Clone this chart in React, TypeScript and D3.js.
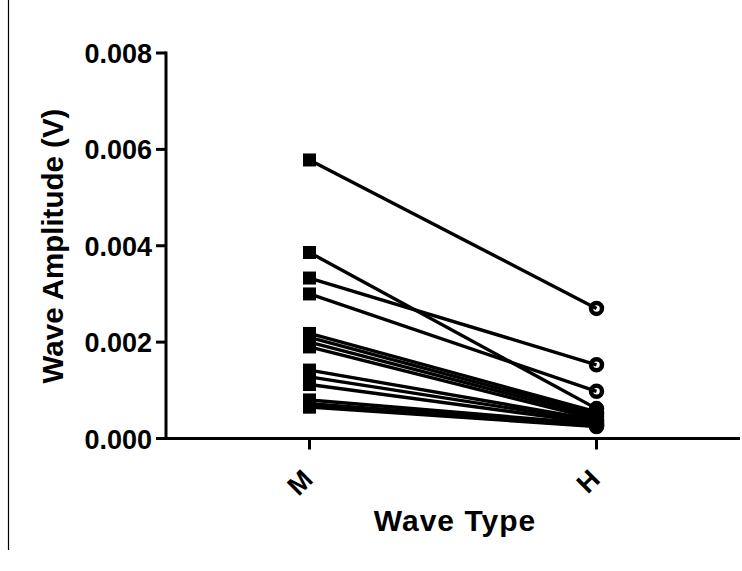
import React from "react";
import * as d3 from "d3";

const categories = ["M", "H"];
const mValues = [0.00578, 0.00386, 0.00333, 0.003, 0.00218, 0.0021, 0.002, 0.0019, 0.00142, 0.00128, 0.00112, 0.0008, 0.00072, 0.00068, 0.00065];
const hValues = [0.0027, 0.00062, 0.00153, 0.00098, 0.00055, 0.0005, 0.00045, 0.0004, 0.00038, 0.00035, 0.00032, 0.0003, 0.00028, 0.00026, 0.00025];
const yTicks = [0, 0.002, 0.004, 0.006, 0.008];
const xTitle = "Wave Type";
const yTitle = "Wave Amplitude (V)";

const W = 742;
const H = 571;
const FONT = "'Liberation Sans', Arial, sans-serif";

export default function App() {
  const x = d3.scalePoint<string>().domain(categories).range([166, 740]).padding(0.5);
  const y = d3.scaleLinear().domain([0, 0.008]).range([438.5, 53]);
  const fmt = d3.format(".3f");
  const pairs = mValues.map((m, i) => [m, hValues[i]]);
  const line = d3
    .line<[string, number]>()
    .x((d) => x(d[0]) as number)
    .y((d) => y(d[1]));
  const sq = 13;

  return (
    <svg
      width={W}
      height={H}
      style={{ position: "absolute", left: 0, top: 0, background: "#fff" }}
      fontFamily={FONT}
      fontWeight="bold"
    >
      <rect x={0} y={0} width={W} height={H} fill="#fff" />
      <line x1={8.5} x2={8.5} y1={0} y2={550} stroke="#000" strokeWidth={1.2} />
      {pairs.map((p, i) => (
        <path
          key={"l" + i}
          d={line([
            [categories[0], p[0]],
            [categories[1], p[1]],
          ]) as string}
          fill="none"
          stroke="#000"
          strokeWidth={3.4}
        />
      ))}
      <line x1={166} x2={166} y1={y(0.008) - 1.5} y2={y(0) + 1.5} stroke="#000" strokeWidth={3} />
      <line x1={166} x2={740} y1={y(0)} y2={y(0)} stroke="#000" strokeWidth={3} />
      {yTicks.map((t) => (
        <g key={"yt" + t}>
          <line x1={156} x2={166} y1={y(t)} y2={y(t)} stroke="#000" strokeWidth={3} />
          <text x={152} y={y(t) + 10} textAnchor="end" fontSize={27}>
            {fmt(t)}
          </text>
        </g>
      ))}
      {categories.map((c) => (
        <g key={"xt" + c}>
          <line x1={x(c)} x2={x(c)} y1={y(0)} y2={y(0) + 11} stroke="#000" strokeWidth={3} />
          <text
            transform={`translate(${(x(c) as number) + 5},${481}) rotate(-45)`}
            textAnchor="end"
            fontSize={27}
          >
            {c}
          </text>
        </g>
      ))}
      {mValues.map((v, i) => (
        <rect
          key={"s" + i}
          x={(x(categories[0]) as number) - sq / 2}
          y={y(v) - sq / 2}
          width={sq}
          height={sq}
          fill="#000"
        />
      ))}
      {hValues.map((v, i) => (
        <circle
          key={"c" + i}
          cx={x(categories[1]) as number}
          cy={y(v)}
          r={5.5}
          fill="none"
          stroke="#000"
          strokeWidth={4.5}
        />
      ))}
      <text x={455} y={531} textAnchor="middle" fontSize={30} letterSpacing={1}>
        {xTitle}
      </text>
      <text transform={`translate(63,246) rotate(-90)`} textAnchor="middle" fontSize={29.5}>
        {yTitle}
      </text>
    </svg>
  );
}
